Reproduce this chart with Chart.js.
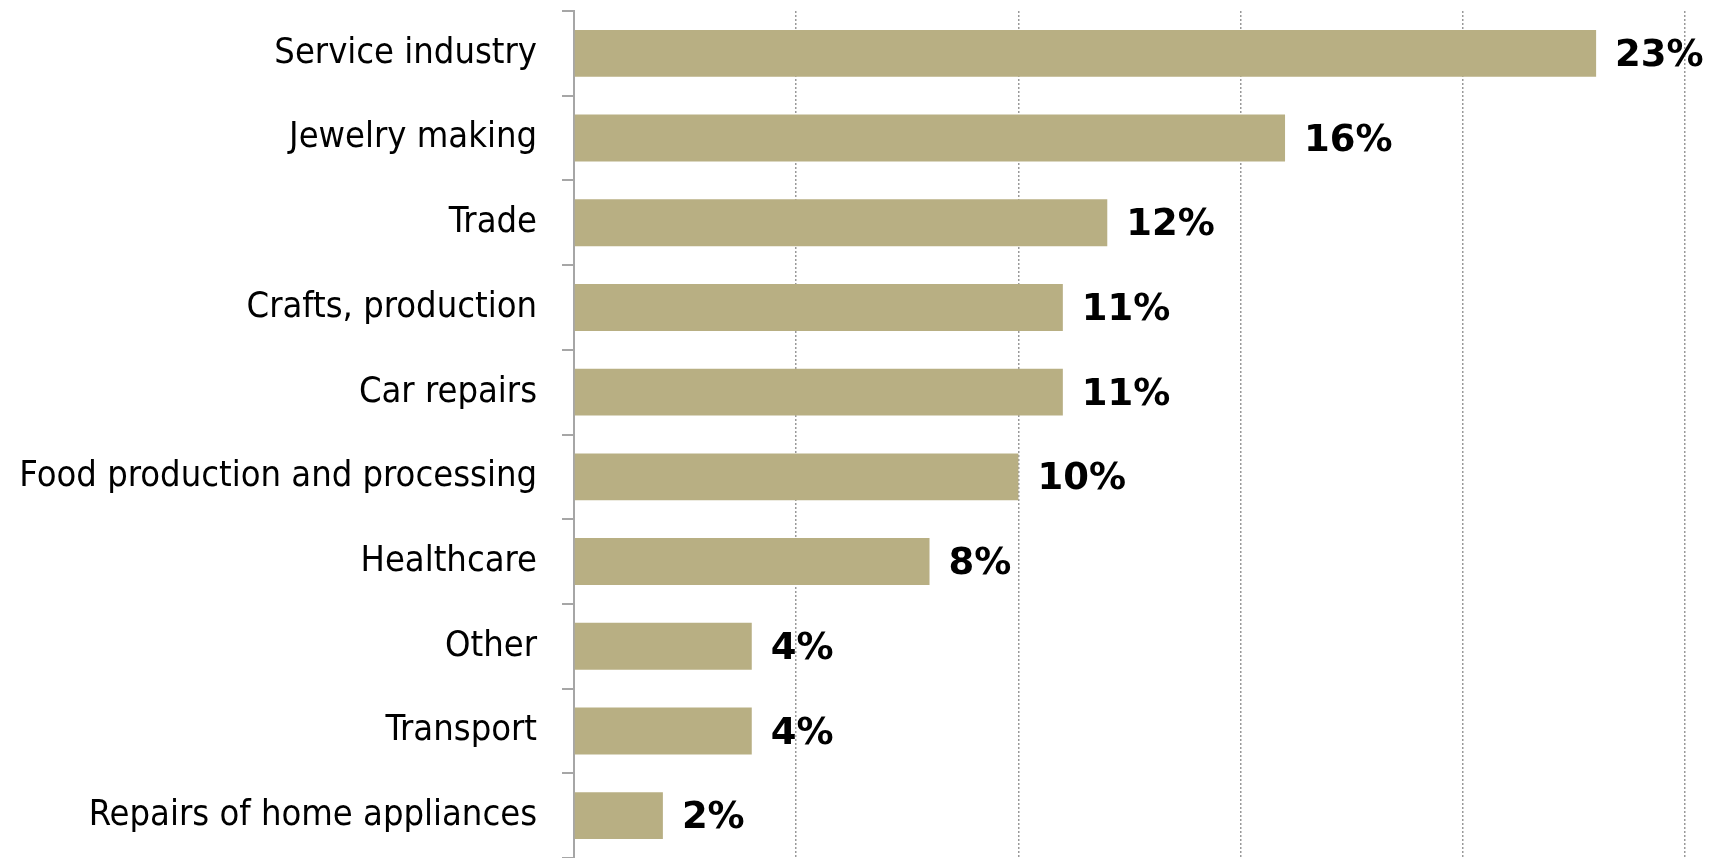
<!DOCTYPE html>
<html>
<head>
<meta charset="utf-8">
<title>Business sectors</title>
<script src="https://cdn.jsdelivr.net/npm/chart.js@4/dist/chart.umd.min.js"></script>
<style>
    html, body { margin: 0; padding: 0; background: #ffffff; overflow: hidden; }
    #wrap { width: 1713px; height: 858px; }
</style>
</head>
<body>
<div id="wrap"><canvas id="chartSektor" width="1713" height="858"></canvas></div>
<script>
// Sectors and their share (%)
const sectors = [
    'Service industry',
    'Jewelry making',
    'Trade',
    'Crafts, production',
    'Car repairs',
    'Food production and processing',
    'Healthcare',
    'Other',
    'Transport',
    'Repairs of home appliances'
];
const shares = [23, 16, 12, 11, 11, 10, 8, 4, 4, 2];

// x axis range / gridline step
const axisMax = 25;
const axisStep = 5;

const barColor = '#b8af83';
const axisColor = '#a6a6a6';
const labelFont = '"DejaVu Sans Condensed", "Liberation Sans", sans-serif';

// Draw bold "xx%" labels right of each bar
const valueLabels = {
    id: 'valueLabels',
    afterDatasetsDraw(chart) {
        const ctx = chart.ctx;
        const meta = chart.getDatasetMeta(0);
        ctx.save();
        ctx.font = 'bold 37px "DejaVu Sans", sans-serif';
        ctx.fillStyle = '#000000';
        ctx.textAlign = 'left';
        ctx.textBaseline = 'middle';
        meta.data.forEach((bar, i) => {
            ctx.fillText(shares[i] + '%', bar.x + 19, bar.y + 3);
        });
        ctx.restore();
    }
};

new Chart(document.getElementById('chartSektor'), {
    type: 'bar',
    data: {
        labels: sectors,
        datasets: [{
            data: shares,
            backgroundColor: barColor,
            borderWidth: 0,
            barPercentage: 0.554,
            categoryPercentage: 1
        }]
    },
    options: {
        indexAxis: 'y',
        responsive: false,
        animation: false,
        layout: {
            padding: { top: 11, right: 28, bottom: 0, left: 0 }
        },
        plugins: {
            legend: { display: false },
            tooltip: { enabled: false }
        },
        scales: {
            x: {
                min: 0,
                max: axisMax,
                grid: {
                    color: '#999999',
                    lineWidth: 1.5,
                    drawTicks: false
                },
                border: { display: false, dash: [2, 2] },
                ticks: { display: false, stepSize: axisStep },
                afterFit: function(scale) {
                    scale.height = 0;
                    scale.paddingLeft = 0;
                    scale.paddingRight = 0;
                }
            },
            y: {
                grid: {
                    offset: true,
                    drawOnChartArea: false,
                    drawTicks: true,
                    tickLength: 12,
                    tickColor: axisColor,
                    lineWidth: 2
                },
                border: { display: true, color: axisColor, width: 2 },
                ticks: {
                    color: '#000000',
                    padding: 25,
                    font: { family: labelFont, size: 36 }
                },
                afterFit: function(scale) {
                    // keep the label column fixed and drop the half-label padding
                    scale.width = 574;
                    scale.paddingTop = 0;
                    scale.paddingBottom = 0;
                }
            }
        }
    },
    plugins: [valueLabels]
});
</script>
</body>
</html>
